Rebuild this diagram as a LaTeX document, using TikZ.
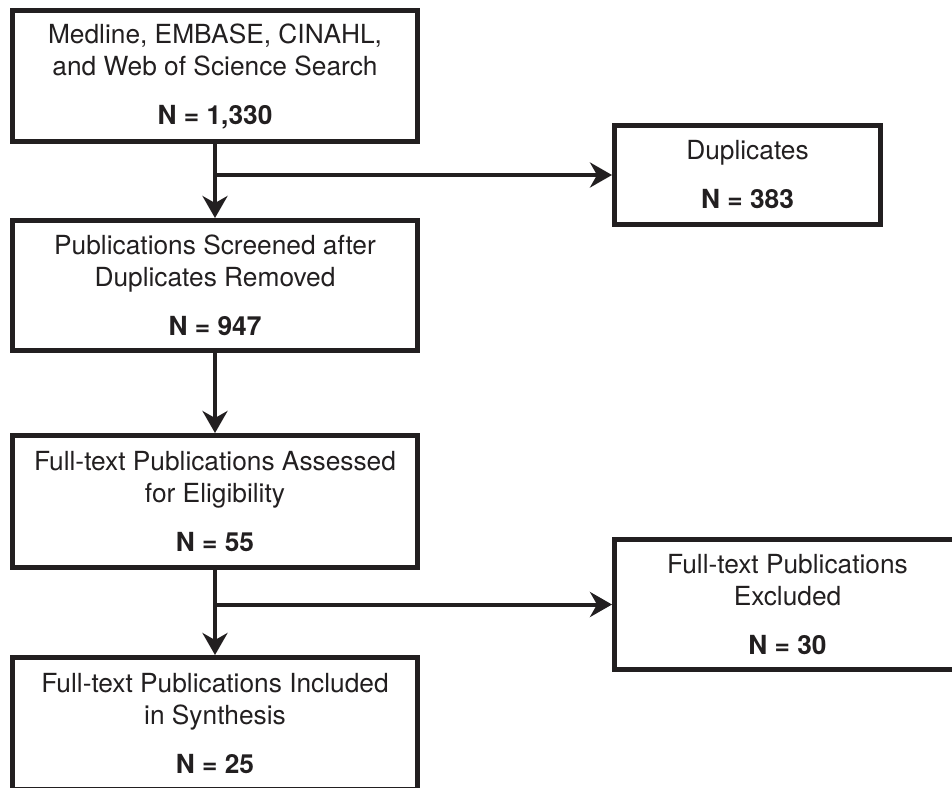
\documentclass[tikz,border=0pt]{standalone}
\usepackage{fontspec}
\setmainfont{TeX Gyre Heros}
\usetikzlibrary{arrows.meta}
\definecolor{flowink}{RGB}{34,31,32}

\begin{document}
\begin{tikzpicture}[x=1pt,y=-1pt,
		box/.style={draw=flowink, line width=5pt, text=flowink, align=center, inner sep=0pt,
			font=\fontsize{26.3}{32}\selectfont},
		flow/.style={draw=flowink, line width=4pt, -{Stealth[length=22pt,width=25pt,inset=7pt]}}]
		{
			\def\boxw{405pt}
			\useasboundingbox (0,0) rectangle (952,787);
			\clip (0,0) rectangle (952,787);

			% main column
			\node[box, minimum width=\boxw, minimum height=131pt] (search) at (215,76)
				{Medline, EMBASE, CINAHL,\\and Web of Science Search\\[17pt]\textbf{N = 1,330}};
			\node[box, minimum width=\boxw, minimum height=130pt] (screened) at (215,285.5)
				{Publications Screened after\\Duplicates Removed\\[17pt]\textbf{N = 947}};
			\node[box, minimum width=\boxw, minimum height=132pt] (assessed) at (215,501.5)
				{Full-text Publications Assessed\\for Eligibility\\[17pt]\textbf{N = 55}};
			\node[box, minimum width=\boxw, minimum height=132pt] (included) at (215,723.5)
				{Full-text Publications Included\\in Synthesis\\[17pt]\textbf{N = 25}};

			% side boxes
			\node[box, minimum width=266pt, minimum height=99pt] (dupl) at (747.5,175)
				{Duplicates\\[17pt]\textbf{N = 383}};
			\node[box, minimum width=346pt, minimum height=130pt] (excluded) at (787.5,604.5)
				{Full-text Publications\\Excluded\\[17pt]\textbf{N = 30}};

			\coordinate (fork1) at (search.south |- dupl.west);
			\coordinate (fork2) at (assessed.south |- excluded.west);

			\draw[flow] (search) -- (screened);
			\draw[flow] (fork1) -- (dupl.west);
			\draw[flow] (screened) -- (assessed);
			\draw[flow] (assessed) -- (included);
			\draw[flow] (fork2) -- (excluded.west);
		}
\end{tikzpicture}
\end{document}
